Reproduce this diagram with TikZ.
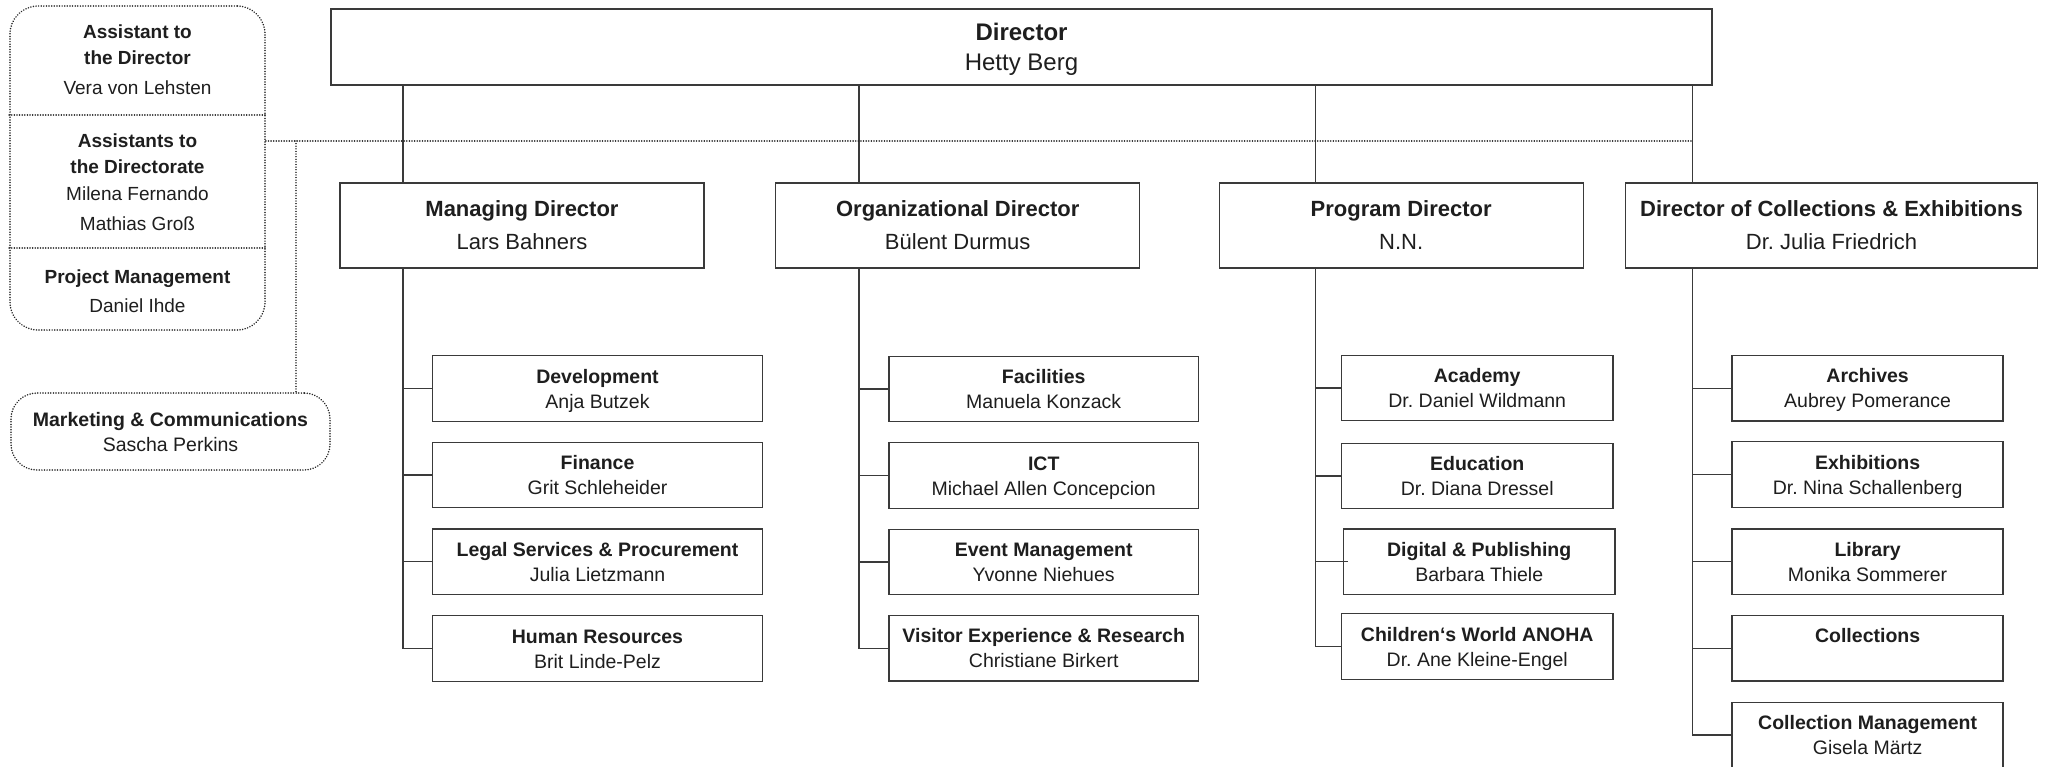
\documentclass[tikz,border=0pt]{standalone}
\usepackage{fontspec}
\setmainfont{Liberation Sans}
\frenchspacing
\definecolor{linec}{HTML}{3A3A3A}
\definecolor{dotc}{HTML}{262626}
\definecolor{textc}{HTML}{1E1E1E}
\newcommand\stA{\rule[-6pt]{0pt}{29.2pt}}
\newcommand\stB{\rule[-6pt]{0pt}{27.75pt}}
\newcommand\stC{\rule[-5pt]{0pt}{24pt}}
\newcommand\twol[3]{{\bfseries #2}#1\\#3#1}
\tikzset{
  box/.style={draw=linec, line width=1.4pt, inner sep=0pt, align=center, text=textc},
  dirbox/.style={box, minimum width=1381pt, minimum height=76pt, font=\fontsize{24}{30}\selectfont},
  midbox/.style={box, minimum width=364pt, minimum height=85pt, font=\fontsize{22}{33}\selectfont},
  subbox/.style={box, minimum height=65.5pt, font=\fontsize{19.5}{25}\selectfont},
  conn/.style={draw=linec, line width=1.2pt},
  dotl/.style={draw=dotc, line width=1.7pt, line cap=round, dash pattern=on 0.01pt off 2.6pt},
  roundbox/.style={dotl, inner sep=0pt, align=center, text=textc},
  ltitle/.style={inner sep=0pt, anchor=base, text=textc, font=\fontsize{19}{23}\selectfont\bfseries},
  lname/.style={inner sep=0pt, anchor=base, text=textc, font=\fontsize{19}{23}\selectfont},
}
\begin{document}
\begin{tikzpicture}[x=1pt, y=-1pt]
\useasboundingbox[fill=white] (0,0) rectangle (2049,766);

% trunk x positions
\coordinate (t1) at (403,0);
\coordinate (t2) at (859,0);
\coordinate (t3) at (1315.5,0);
\coordinate (t4) at (1692.5,0);

% Director
\node[dirbox] (dir) at (1021.5,47) {\twol\stA{Director}{Hetty Berg}};

% Mid level
\node[midbox] (md) at (522,225.5) {\twol\stB{Managing Director}{Lars Bahners}};
\node[midbox] (od) at (957.7,225.5) {\twol\stB{Organizational Director}{Bülent Durmus}};
\node[midbox] (pd) at (1401.2,225.5) {\twol\stB{Program Director}{N.N.}};
\node[midbox, minimum width=412pt] (cd) at (1831.5,225.5) {\twol\stB{Director of Collections \& Exhibitions}{Dr. Julia Friedrich}};

% Column 1
\node[subbox, minimum width=330pt] (dev) at (597.5,388.5) {\twol\stC{Development}{Anja Butzek}};
\node[subbox, minimum width=330pt] (fin) at (597.5,475) {\twol\stC{Finance}{Grit Schleheider}};
\node[subbox, minimum width=330pt] (leg) at (597.5,561.7) {\twol\stC{Legal Services \& Procurement}{Julia Lietzmann}};
\node[subbox, minimum width=330pt] (hr) at (597.5,648.5) {\twol\stC{Human Resources}{Brit Linde-Pelz}};

% Column 2
\node[subbox, minimum width=309.5pt] (fac) at (1043.7,389) {\twol\stC{Facilities}{Manuela Konzack}};
\node[subbox, minimum width=309.5pt] (ict) at (1043.7,475.5) {\twol\stC{ICT}{Michael Allen Concepcion}};
\node[subbox, minimum width=309.5pt] (evt) at (1043.7,562) {\twol\stC{Event Management}{Yvonne Niehues}};
\node[subbox, minimum width=309.5pt] (vis) at (1043.7,648.3) {\twol\stC{Visitor Experience \& Research}{Christiane Birkert}};

% Column 3
\node[subbox, minimum width=271.5pt] (aca) at (1477.2,388) {\twol\stC{Academy}{Dr. Daniel Wildmann}};
\node[subbox, minimum width=271.5pt] (edu) at (1477.2,476) {\twol\stC{Education}{Dr. Diana Dressel}};
\node[subbox, minimum width=271.5pt] (dig) at (1479.2,561.8) {\twol\stC{Digital \& Publishing}{Barbara Thiele}};
\node[subbox, minimum width=271.5pt] (chi) at (1477.2,646.5) {\twol\stC{Children‘s World ANOHA}{Dr. Ane Kleine-Engel}};

% Column 4
\node[subbox, minimum width=271pt] (arc) at (1867.6,388.3) {\twol\stC{Archives}{Aubrey Pomerance}};
\node[subbox, minimum width=271pt] (exh) at (1867.6,474.5) {\twol\stC{Exhibitions}{Dr. Nina Schallenberg}};
\node[subbox, minimum width=271pt] (lib) at (1867.6,561.8) {\twol\stC{Library}{Monika Sommerer}};
\node[subbox, minimum width=271pt] (col) at (1867.6,648.3) {\twol\stC{Collections}{}};
\node[subbox, minimum width=271pt] (cmg) at (1867.6,735) {\twol\stC{Collection Management}{Gisela Märtz}};

% Director to mid level
\draw[conn] (dir.south -| t1) -- (md.north -| t1);
\draw[conn] (dir.south -| t2) -- (od.north -| t2);
\draw[conn] (dir.south -| t3) -- (pd.north -| t3);
\draw[conn] (dir.south -| t4) -- (cd.north -| t4);

% Column 1 connectors
\draw[conn] (md.south -| t1) |- (hr.west);
\draw[conn] (dev.west -| t1) -- (dev.west);
\draw[conn] (fin.west -| t1) -- (fin.west);
\draw[conn] (leg.west -| t1) -- (leg.west);

% Column 2 connectors
\draw[conn] (od.south -| t2) |- (vis.west);
\draw[conn] (fac.west -| t2) -- (fac.west);
\draw[conn] (ict.west -| t2) -- (ict.west);
\draw[conn] (evt.west -| t2) -- (evt.west);

% Column 3 connectors
\draw[conn] (pd.south -| t3) |- (chi.west);
\draw[conn] (aca.west -| t3) -- (aca.west);
\draw[conn] (edu.west -| t3) -- (edu.west);
\draw[conn] (dig.west -| t3) -- ([xshift=5pt]dig.west);

% Column 4 connectors
\draw[conn] (cd.south -| t4) |- (cmg.west);
\draw[conn] (arc.west -| t4) -- (arc.west);
\draw[conn] (exh.west -| t4) -- (exh.west);
\draw[conn] (lib.west -| t4) -- (lib.west);
\draw[conn] (col.west -| t4) -- (col.west);

% Left staff box
\node[roundbox, rounded corners=28pt, minimum width=255pt, minimum height=324pt] (asst) at (137.5,168) {};
\coordinate (d1) at (0,115);
\coordinate (d2) at (0,248);
\draw[dotl] (asst.west |- d1) -- (asst.east |- d1);
\draw[dotl] (asst.west |- d2) -- (asst.east |- d2);
\node[ltitle] (a1) at (137.5,38) {Assistant to};
\node[ltitle] (a2) at (137.5,64) {the Director};
\node[lname] (a3) at (137.5,94) {Vera von Lehsten};
\node[ltitle] (b1) at (137.5,147) {Assistants to};
\node[ltitle] (b2) at (137.5,173.5) {the Directorate};
\node[lname] (b3) at (137.5,200) {Milena Fernando};
\node[lname] (b4) at (137.5,230) {Mathias Groß};
\node[ltitle] (c1) at (137.5,283) {Project Management};
\node[lname] (c2) at (137.5,312) {Daniel Ihde};

% Marketing box
\node[roundbox, rounded corners=26pt, minimum width=319pt, minimum height=77pt, font=\fontsize{19.5}{25}\selectfont] (mk) at (170.5,431.5) {\twol\stC{Marketing \& Communications}{Sascha Perkins}};

% Dotted staff lines
\coordinate (dend) at (1693.5,141);
\coordinate (mkj) at (296,141);
\draw[dotl] (asst.east |- dend) -- (dend);
\draw[dotl, line width=1.3pt] (mkj) -- (mkj |- mk.north);
\end{tikzpicture}
\end{document}
